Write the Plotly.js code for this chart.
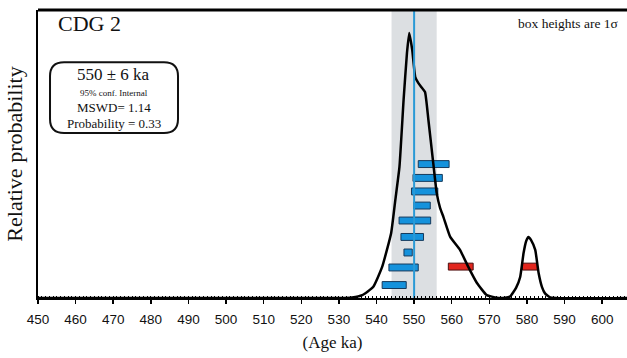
<!DOCTYPE html>
<html>
<head>
<meta charset="utf-8">
<script src="https://cdn.plot.ly/plotly-3.0.1.min.js"></script>
<style>html,body{margin:0;padding:0;background:#fff;}#chart{width:627px;height:358px;}</style>
</head>
<body>
<div id="chart"></div>
<script>
// Probability density curve
var curveAge  = [450, 530.3, 533.5, 536.2, 539.1, 541.5, 543.9, 545.0, 546.1, 547.2, 548.1, 548.7, 549.5, 550.3, 551.1, 551.9, 552.9, 553.8, 555.0, 556.0, 556.9, 557.8, 559.6, 562.2, 564.4, 566.7, 569.3, 572.0, 574.2, 575.5, 577.1, 578.2, 579.1, 579.8, 580.4, 581.1, 582.2, 583.1, 584.0, 584.8, 586.2, 606.6];
var curveProb = [0, 0, 0.002, 0.010, 0.038, 0.108, 0.226, 0.340, 0.455, 0.688, 0.851, 0.920, 0.861, 0.767, 0.747, 0.733, 0.715, 0.618, 0.479, 0.365, 0.313, 0.281, 0.212, 0.167, 0.108, 0.052, 0.010, 0.001, 0.001, 0.005, 0.035, 0.073, 0.156, 0.198, 0.212, 0.201, 0.167, 0.087, 0.038, 0.016, 0.002, 0];

// Included analyses (blue) and excluded (red): age, 1 sigma, stacking level
var blueAges   = [555.2, 553.6, 552.8, 552.1, 550.2, 549.5, 548.4, 547.2, 544.7];
var blueSigma  = [4.1, 3.9, 3.5, 2.2, 4.2, 3.0, 1.1, 3.9, 3.2];
var blueLevels = [0.465, 0.417, 0.370, 0.321, 0.269, 0.212, 0.158, 0.106, 0.045];
var redAges    = [562.4, 580.8];
var redSigma   = [3.3, 2.0];
var redLevels  = [0.109, 0.109];

// Weighted mean
var meanAge = 550;
var meanErr = 6;

var tickVals = [450, 460, 470, 480, 490, 500, 510, 520, 530, 540, 550, 560, 570, 580, 590, 600];
var tickText = tickVals.map(String);

var serif = 'Liberation Serif, Times New Roman, serif';

function widths(s){ return s.map(function(v){ return 2*v; }); }
function bases(a, s){ return a.map(function(v,i){ return v - s[i]; }); }

var traces = [
  {type:'scatter', mode:'lines', x:curveAge, y:curveProb, cliponaxis:true,
   line:{color:'#000', width:2.5, shape:'spline', smoothing:0.4}, hoverinfo:'skip'},
  {type:'bar', orientation:'h', y:blueLevels, x:widths(blueSigma), base:bases(blueAges, blueSigma),
   width:0.024, marker:{color:'#1592dc', line:{color:'#163a5c', width:1}}},
  {type:'bar', orientation:'h', y:redLevels, x:widths(redSigma), base:bases(redAges, redSigma),
   width:0.024, marker:{color:'#e2261e', line:{color:'#4a1010', width:1}}},
  {type:'scatter', mode:'lines', x:[meanAge, meanAge], y:[0, 1],
   line:{color:'#2a9ad6', width:2}, hoverinfo:'skip'}
];

// rounded box in paper coords
var bx0 = 0.0204, bx1 = 0.2377, by0 = 0.573, by1 = 0.819, rx = 0.0238, ry = 0.0486;
var rpath = 'M ' + (bx0+rx) + ' ' + by1 +
  ' L ' + (bx1-rx) + ' ' + by1 + ' Q ' + bx1 + ' ' + by1 + ' ' + bx1 + ' ' + (by1-ry) +
  ' L ' + bx1 + ' ' + (by0+ry) + ' Q ' + bx1 + ' ' + by0 + ' ' + (bx1-rx) + ' ' + by0 +
  ' L ' + (bx0+rx) + ' ' + by0 + ' Q ' + bx0 + ' ' + by0 + ' ' + bx0 + ' ' + (by0+ry) +
  ' L ' + bx0 + ' ' + (by1-ry) + ' Q ' + bx0 + ' ' + by1 + ' ' + (bx0+rx) + ' ' + by1 + ' Z';

var layout = {
  width:627, height:358,
  margin:{l:38, r:0, t:10, b:60},
  paper_bgcolor:'#fff', plot_bgcolor:'#fff',
  showlegend:false, barmode:'overlay', bargap:0,
  xaxis:{range:[450, 606.6], tickmode:'array', tickvals:tickVals, ticktext:tickText,
    showline:true, linecolor:'#000', linewidth:2, ticks:'outside', ticklen:4, tickcolor:'#000', tickwidth:1.5,
    ticklabelstandoff:4,
    minor:{dtick:1, ticks:'inside', ticklen:2, tickcolor:'#000', tickwidth:1},
    showgrid:false, zeroline:false,
    tickfont:{family:'Liberation Sans, Arial, sans-serif', size:13.5, color:'#111'},
    title:{text:'(Age ka)', font:{family:serif, size:17, color:'#111'}, standoff:10}},
  yaxis:{range:[0, 1], showticklabels:false, ticks:'', showgrid:false, zeroline:false,
    showline:true, linecolor:'#000', linewidth:2,
    title:{text:'Relative probability', font:{family:serif, size:22, color:'#111'}, standoff:7}},
  shapes:[
    {type:'rect', xref:'x', yref:'paper', x0:meanAge-meanErr, x1:meanAge+meanErr, y0:0, y1:1,
     fillcolor:'#dcdfe2', line:{width:0}, layer:'below'},
    {type:'line', xref:'paper', yref:'paper', x0:0, x1:1, y0:1, y1:1, line:{color:'#000', width:3}},
    {type:'path', xref:'paper', yref:'paper', path:rpath, line:{color:'#111', width:2}, fillcolor:'rgba(255,255,255,0)'}
  ],
  annotations:[
    {xref:'paper', yref:'paper', x:0.03, y:1.005, xanchor:'left', yanchor:'top', showarrow:false,
     text:'CDG 2', font:{family:serif, size:22, color:'#111'}},
    {xref:'paper', yref:'paper', x:0.99, y:0.985, xanchor:'right', yanchor:'top', showarrow:false,
     text:'box heights are 1σ', font:{family:serif, size:13.5, color:'#111'}},
    {xref:'paper', yref:'paper', x:0.129, y:0.775, xanchor:'center', yanchor:'middle', showarrow:false,
     text:'550 ± 6 ka', font:{family:serif, size:17, color:'#111'}},
    {xref:'paper', yref:'paper', x:0.129, y:0.712, xanchor:'center', yanchor:'middle', showarrow:false,
     text:'95% conf. Internal', font:{family:serif, size:9, color:'#111'}},
    {xref:'paper', yref:'paper', x:0.129, y:0.663, xanchor:'center', yanchor:'middle', showarrow:false,
     text:'MSWD= 1.14', font:{family:serif, size:13, color:'#111'}},
    {xref:'paper', yref:'paper', x:0.129, y:0.607, xanchor:'center', yanchor:'middle', showarrow:false,
     text:'Probability = 0.33', font:{family:serif, size:13, color:'#111'}}
  ]
};

Plotly.newPlot('chart', traces, layout, {displayModeBar:false, staticPlot:true});
</script>
</body>
</html>
